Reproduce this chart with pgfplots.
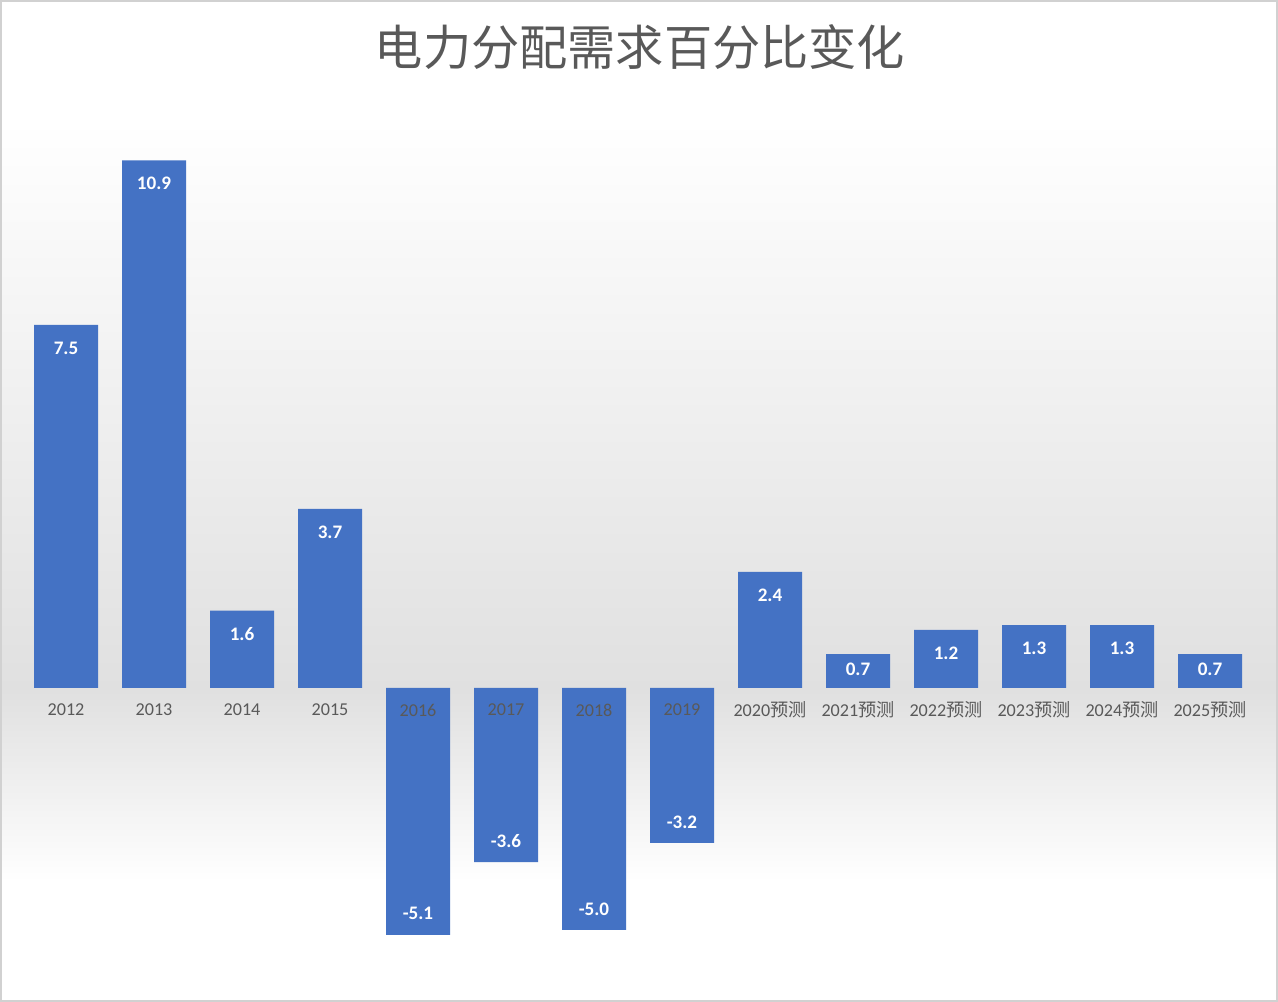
\documentclass[border=0pt]{standalone}
\usepackage{pgfplots}
\pgfplotsset{compat=1.18}
\usepackage{fontspec}
\setmainfont{Carlito}
\newfontfamily\cjk{Noto Sans CJK SC}
\definecolor{barblue}{HTML}{4472C4}
\definecolor{txtgray}{HTML}{595959}
\definecolor{bggray}{HTML}{E0E0E0}
\begin{document}
\begin{tikzpicture}[x=1bp,y=1bp]
\fill[white] (0,0) rectangle (639,501);
\shade[top color=white, bottom color=bggray] (0,441) rectangle (639,156);
\shade[top color=bggray, bottom color=white] (0,156) rectangle (639,60);
\draw[color=black!18, line width=1bp] (0.5,0.5) rectangle (638.5,500.5);
\node[text=txtgray, font=\cjk\fontsize{24.2}{28}\selectfont] at (320, 477.5) {电力分配需求百分比变化};
\begin{axis}[
  at={(11bp,11.8bp)}, anchor=south west,
  scale only axis, width=616bp, height=435.6bp,
  xmin=-0.5, xmax=13.5, ymin=-6, ymax=12,
  axis on top,
  axis x line*=middle, axis y line=none,
  axis line style={draw=none},
  xtick={0,...,13},
  xticklabels={2012,2013,2014,2015,2016,2017,2018,2019,2020{\cjk 预测},2021{\cjk 预测},2022{\cjk 预测},2023{\cjk 预测},2024{\cjk 预测},2025{\cjk 预测}},
  major tick length=0pt,
  xticklabel style={text=txtgray, font=\fontsize{9.1}{10}\selectfont, anchor=center, yshift=-11bp, inner sep=0pt},
  ybar, bar width=32bp,
  /pgf/number format/.cd, fixed, fixed zerofill, precision=1, assume math mode=true,
]
\addplot[fill=barblue, draw=none, bar shift=0pt,
  nodes near coords,
  nodes near coords style={text=white, font=\bfseries\fontsize{9.6}{10}\selectfont, anchor=center, yshift=-11.5bp}]
  coordinates {(0,7.5)(1,10.9)(2,1.6)(3,3.7)(8,2.4)(10,1.2)(11,1.3)(12,1.3)};
\addplot[fill=barblue, draw=none, bar shift=0pt,
  nodes near coords,
  nodes near coords style={text=white, font=\bfseries\fontsize{9.6}{10}\selectfont, anchor=center, yshift=-7.5bp}]
  coordinates {(9,0.7)(13,0.7)};
\addplot[fill=barblue, draw=none, bar shift=0pt,
  nodes near coords,
  nodes near coords style={text=white, font=\bfseries\fontsize{9.6}{10}\selectfont, anchor=center, yshift=10.5bp}]
  coordinates {(4,-5.1)(5,-3.6)(6,-5.0)(7,-3.2)};
\end{axis}
\end{tikzpicture}
\end{document}
